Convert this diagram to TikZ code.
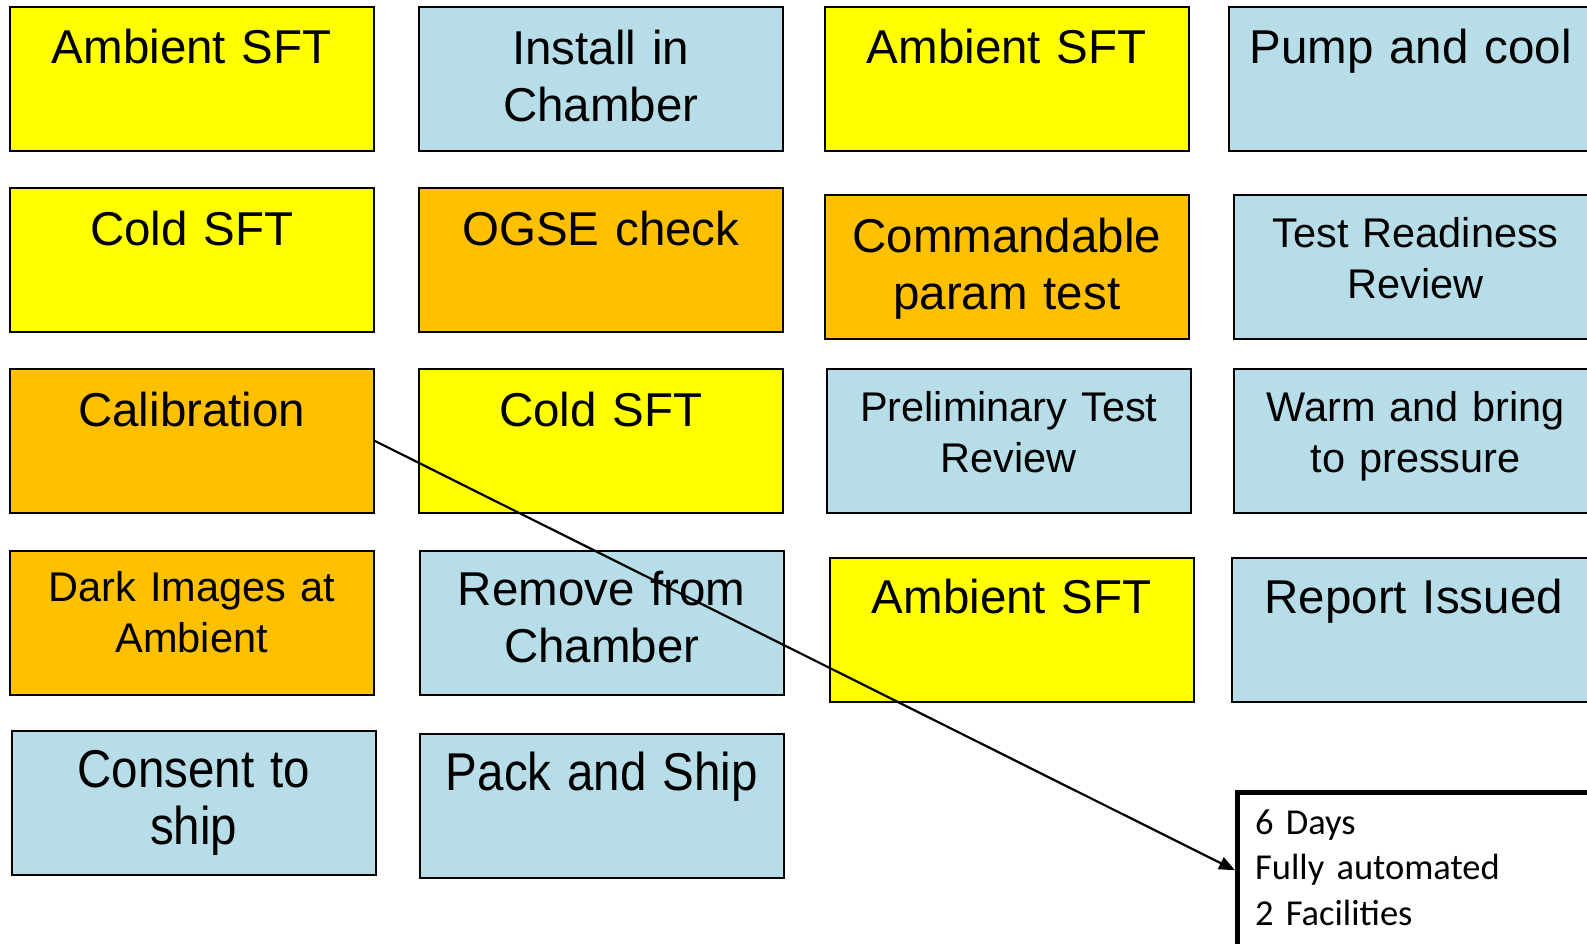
\documentclass[tikz,border=0pt]{standalone}
\usepackage{fontspec}
\usepackage{graphicx}
\setmainfont{Liberation Sans}
\newfontfamily\calib{Carlito}
\usetikzlibrary{calc,arrows.meta}
\definecolor{cyel}{HTML}{FFFF00}
\definecolor{corg}{HTML}{FFC000}
\definecolor{cblu}{HTML}{B7DEE8}
\newcommand{\tallx}[1]{\scalebox{1}[1.12]{#1}}
\begin{document}
\begin{tikzpicture}[x=1pt,y=-1pt,
  box/.style={draw=black, line width=1.5pt, minimum width=364pt, minimum height=144pt, anchor=north west, inner sep=0pt},
  yb/.style={box, fill=cyel},
  ob/.style={box, fill=corg},
  bb/.style={box, fill=cblu},
  big/.style={anchor=base, align=center, text width=362pt, inner sep=0pt, font=\fontsize{47.5}{57}\selectfont},
  small/.style={anchor=base, align=center, text width=362pt, inner sep=0pt, font=\fontsize{41.5}{51}\selectfont},
  infobox/.style={draw=black, fill=white, line width=4.5pt, minimum width=420pt, minimum height=156pt, anchor=north west, inner sep=0pt},
  infotext/.style={anchor=base west, align=left, text width=320pt, inner sep=0pt, font=\calib\fontsize{36.5}{45.5}\selectfont},
  conn/.style={draw=black, line width=2.2pt, -{Triangle[length=16pt,width=13pt]}}
]
\useasboundingbox (0,0) rectangle (1587,943);
\clip (0,0) rectangle (1587,943);
\fill[white] (0,0) rectangle (1587,943);

% row 1
\node[yb] (a1) at (9,6) {};
\node[big] (a1t) at ($(a1.north)+(0,57)$) {Ambient SFT};
\node[bb] (a2) at (418,6) {};
\node[big] (a2t) at ($(a2.north)+(0,58)$) {Install in\\Chamber};
\node[yb] (a3) at (824,6) {};
\node[big] (a3t) at ($(a3.north)+(0,57)$) {Ambient SFT};
\node[bb] (a4) at (1228,6) {};
\node[big] (a4t) at ($(a4.north)+(0,57)$) {Pump and cool};

% row 2
\node[yb] (b1) at (9,187) {};
\node[big] (b1t) at ($(b1.north)+(0,58)$) {Cold SFT};
\node[ob] (b2) at (418,187) {};
\node[big] (b2t) at ($(b2.north)+(0,58)$) {OGSE check};
\node[ob] (b3) at (824,194) {};
\node[big] (b3t) at ($(b3.north)+(0,58)$) {Commandable\\param test};
\node[bb] (b4) at (1233,194) {};
\node[small] (b4t) at ($(b4.north)+(0,53)$) {Test Readiness\\Review};

% row 3
\node[ob] (c1) at (9,368) {};
\node[big] (c1t) at ($(c1.north)+(0,58)$) {Calibration};
\node[yb] (c2) at (418,368) {};
\node[big] (c2t) at ($(c2.north)+(0,58)$) {Cold SFT};
\node[bb] (c3) at (826,368) {};
\node[small] (c3t) at ($(c3.north)+(0,53)$) {Preliminary Test\\Review};
\node[bb] (c4) at (1233,368) {};
\node[small] (c4t) at ($(c4.north)+(0,53)$) {Warm and bring\\to pressure};

% row 4
\node[ob] (d1) at (9,550) {};
\node[small] (d1t) at ($(d1.north)+(0,51)$) {Dark Images at\\Ambient};
\node[bb] (d2) at (419,550) {};
\node[big] (d2t) at ($(d2.north)+(0,55)$) {Remove from\\Chamber};
\node[yb] (d3) at (829,557) {};
\node[big] (d3t) at ($(d3.north)+(0,56)$) {Ambient SFT};
\node[bb] (d4) at (1231,557) {};
\node[big] (d4t) at ($(d4.north)+(0,56)$) {Report Issued};

% row 5
\node[bb] (e1) at (11,730) {};
\node[big] (e1t) at ($(e1.north)+(0,57)$) {\tallx{Consent to}\\\tallx{ship}};
\node[bb] (e2) at (419,733) {};
\node[big] (e2t) at ($(e2.north)+(0,57)$) {\tallx{Pack and Ship}};

% info box
\node[infobox] (info) at (1235,790) {};
\node[infotext] (infot) at (1255,834) {6 Days\\Fully automated\\2 Facilities};

% connector
\draw[conn] (c1.east) -- (info.west);
\end{tikzpicture}
\end{document}
